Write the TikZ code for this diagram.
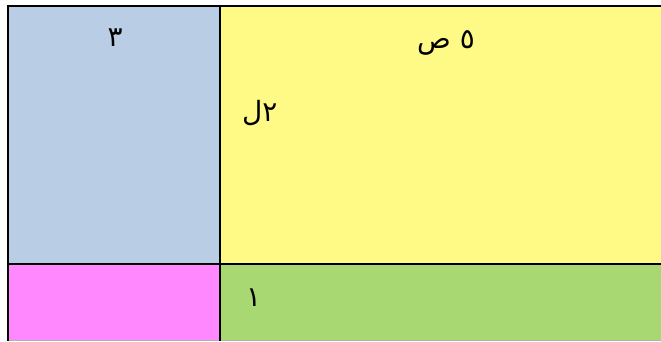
\documentclass[tikz,border=0pt]{standalone}
\usepackage{fontspec}
\newfontfamily\arabicfont[Script=Arabic]{DejaVu Sans}
\TeXXeTstate=1
\definecolor{cblue}{RGB}{185,205,229}
\definecolor{cpink}{RGB}{255,136,255}
\definecolor{cyellow}{RGB}{255,250,133}
\definecolor{cgreen}{RGB}{168,216,114}
\tikzset{
  border/.style={line width=2.8bp, black},
  arlabel/.style={inner sep=0pt, font=\arabicfont\fontsize{28}{32}\selectfont}
}
\begin{document}
\begin{tikzpicture}[x=1bp,y=-1bp]
\useasboundingbox (0,0) rectangle (661,341);
\fill[white] (0,0) rectangle (661,341);
\fill[cblue] (8,6) rectangle (220,264);
\fill[cpink] (8,264) rectangle (220,340);
\fill[cyellow] (220,6) rectangle (661,264);
\fill[cgreen] (220,264) rectangle (661,340);
\draw[gray!60, line width=0.8bp] (8,340) -- (661,340);
\draw[border] (8,341) -- (8,6) -- (661,6);
\draw[border] (220,6) -- (220,341);
\draw[border] (8,264) -- (661,264);
\node[arlabel, anchor=base] (t3) at (115,46) {\beginR ٣\endR};
\node[arlabel, anchor=base] (t5) at (446,48) {\beginR ٥ ص\endR};
\node[arlabel, anchor=base west] (t2) at (242,121) {\beginR ٢ل\endR};
\node[arlabel, anchor=base west] (t1) at (246,306) {\beginR ١\endR};
\end{tikzpicture}
\end{document}
